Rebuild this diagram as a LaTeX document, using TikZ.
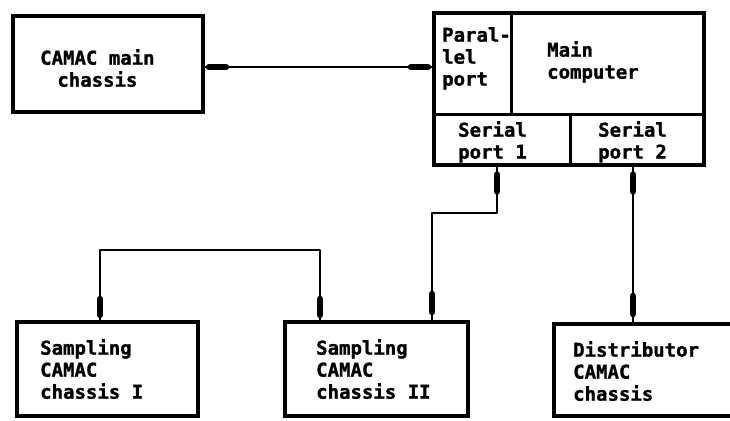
\documentclass[tikz,border=0pt]{standalone}
\usepackage{fontspec}
\newfontfamily\plotfont[BoldFeatures={FakeBold=1.2}]{DejaVu Sans Mono}
\usetikzlibrary{calc}
\begin{document}
\begin{tikzpicture}[x=1pt,y=-1pt,
  box/.style={draw, line width=4pt, rectangle, inner sep=0pt},
  cell/.style={draw, line width=3pt, rectangle, inner sep=0pt},
  lbl/.style={anchor=north west, inner sep=0pt, align=left, font=\plotfont\bfseries\fontsize{19}{22}\selectfont},
  wire/.style={line width=2.8pt, line join=round},
  blob/.style={line width=6.5pt, line cap=round}]
\useasboundingbox (0,0) rectangle (730,420);
\clip (0,0) rectangle (730,420);

% CAMAC main chassis
\node[box, minimum width=190pt, minimum height=96pt] (main) at (108,64) {};
\node[lbl, align=center] (maintxt) at (40,49) {CAMAC main\\chassis};

% main computer with ports
\node[cell, minimum width=77pt, minimum height=101pt] (par) at (472.5,63.5) {};
\node[cell, minimum width=193pt, minimum height=101pt] (mc) at (607.5,63.5) {};
\node[cell, minimum width=136pt, minimum height=51pt] (ser1) at (502,139.5) {};
\node[cell, minimum width=134pt, minimum height=51pt] (ser2) at (637,139.5) {};
\node[box, minimum width=270pt, minimum height=152pt] (comp) at (569,89) {};
\node[lbl] (partxt) at (442,27) {Paral-\\lel\\port};
\node[lbl] (mctxt) at (547,41) {Main\\computer};
\node[lbl] (ser1txt) at (458,121) {Serial\\port 1};
\node[lbl] (ser2txt) at (598,121) {Serial\\port 2};

% bottom chassis
\node[box, minimum width=181pt, minimum height=94pt] (sampI) at (107.5,369) {};
\node[box, minimum width=183pt, minimum height=94pt] (sampII) at (376.5,369) {};
\node[box, minimum width=191pt, minimum height=92pt] (dist) at (649.5,370) {};
\node[lbl] (sampItxt) at (40,339) {Sampling\\CAMAC\\chassis I};
\node[lbl] (sampIItxt) at (316,339) {Sampling\\CAMAC\\chassis II};
\node[lbl] (disttxt) at (573,341) {Distributor\\CAMAC\\chassis};

% main chassis -- parallel port
\coordinate (h) at (0,67);
\coordinate (t1) at (main.east |- h);
\coordinate (t2) at (comp.west |- h);
\draw[wire] (t1) -- (t2);
\draw[blob] ($(t1)!4pt!(t2)$) -- ($(t1)!21pt!(t2)$);
\draw[blob] ($(t2)!4pt!(t1)$) -- ($(t2)!21pt!(t1)$);

% bridge between sampling chassis
\coordinate (b1) at (100,250);
\coordinate (b2) at (320,250);
\coordinate (e1) at (sampI.north -| b1);
\coordinate (e2) at (sampII.north -| b2);
\draw[wire] (e1) -- (b1) -- (b2) -- (e2);
\draw[blob] ($(e1)!5pt!(b1)$) -- ($(e1)!21pt!(b1)$);
\draw[blob] ($(e2)!5pt!(b2)$) -- ($(e2)!21pt!(b2)$);

% serial port 1 -- sampling II
\coordinate (s1a) at (497,213);
\coordinate (s1b) at (432,213);
\coordinate (s1top) at (ser1.south -| s1a);
\coordinate (s1bot) at (sampII.north -| s1b);
\draw[wire] (s1top) -- (s1a) -- (s1b) -- (s1bot);
\draw[blob] ($(s1top)!8pt!(s1a)$) -- ($(s1top)!25pt!(s1a)$);
\draw[blob] ($(s1bot)!8pt!(s1b)$) -- ($(s1bot)!26pt!(s1b)$);

% serial port 2 -- distributor
\coordinate (s2) at (633,250);
\coordinate (s2top) at (ser2.south -| s2);
\coordinate (s2bot) at (dist.north -| s2);
\draw[wire] (s2top) -- (s2bot);
\draw[blob] ($(s2top)!8pt!(s2bot)$) -- ($(s2top)!25pt!(s2bot)$);
\draw[blob] ($(s2bot)!8pt!(s2top)$) -- ($(s2bot)!26pt!(s2top)$);
\end{tikzpicture}
\end{document}
